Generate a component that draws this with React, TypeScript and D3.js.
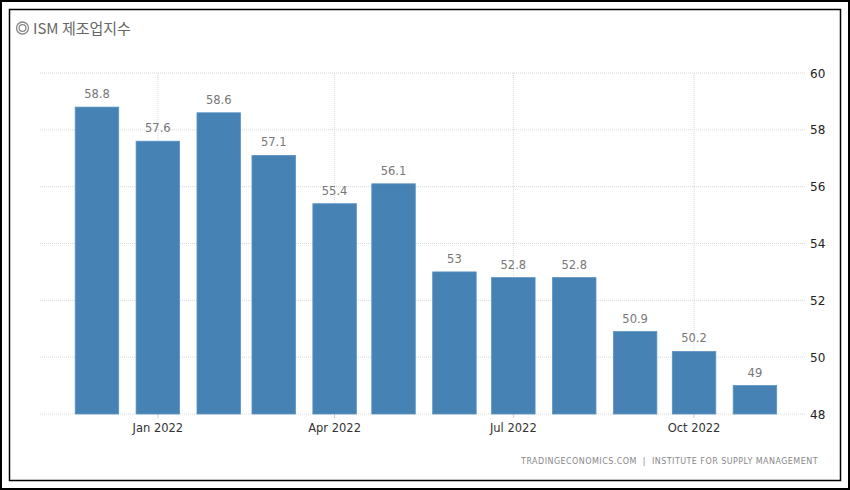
import React from "react";
import * as d3 from "d3";

const months: string[] = [
  "2021-12-01", "2022-01-01", "2022-02-01", "2022-03-01", "2022-04-01", "2022-05-01",
  "2022-06-01", "2022-07-01", "2022-08-01", "2022-09-01", "2022-10-01", "2022-11-01",
];
const values: number[] = [58.8, 57.6, 58.6, 57.1, 55.4, 56.1, 53, 52.8, 52.8, 50.9, 50.2, 49];
const yTicks: number[] = [48, 50, 52, 54, 56, 58, 60];
const xTickDates: string[] = ["2022-01-01", "2022-04-01", "2022-07-01", "2022-10-01"];
const title = "ISM 제조업지수";
const source = "TRADINGECONOMICS.COM  |  INSTITUTE FOR SUPPLY MANAGEMENT";

const W = 850;
const H = 490;

export default function App() {
  const parse = d3.utcParse("%Y-%m-%d");
  const x = d3
    .scaleUtc()
    .domain([parse("2021-11-02")!, parse("2022-11-27")!])
    .range([40, 806]);
  const y = d3.scaleLinear().domain([48, 60]).range([414, 73]);
  const fmt = d3.utcFormat("%b %Y");
  const barW = 43.5;
  const font = "'DejaVu Sans', Verdana, sans-serif";

  return (
    <svg
      width={W}
      height={H}
      style={{ position: "absolute", left: 0, top: 0, background: "#fff" }}
    >
      <rect x={1} y={1} width={W - 2} height={H - 2} fill="#fff" stroke="#000" strokeWidth={2} />
      <rect x={9.5} y={9.5} width={831} height={471} fill="#fff" stroke="#000" strokeWidth={1.5} />

      {/* title */}
      <g>
        <circle cx={22.5} cy={28} r={6} fill="none" stroke="#888" strokeWidth={1.3} />
        <circle cx={22.5} cy={28} r={3.4} fill="none" stroke="#888" strokeWidth={1.3} />
        <text
          x={33}
          y={33.5}
          fontFamily="'Noto Sans CJK KR', 'Noto Sans', sans-serif"
          fontSize={15}
          fill="#666"
        >
          {title}
        </text>
      </g>

      {/* horizontal grid */}
      {yTicks.map((t) => (
        <g key={"y" + t}>
          <line
            x1={40}
            x2={806}
            y1={y(t)}
            y2={y(t)}
            stroke="#d8d8d8"
            strokeWidth={1}
            strokeDasharray="1,1"
          />
          <text x={810} y={y(t) + 4.5} fontFamily={font} fontSize={12} fill="#222">
            {t}
          </text>
        </g>
      ))}

      {/* vertical grid + ticks */}
      {xTickDates.map((d) => {
        const xd = x(parse(d)!);
        return (
          <g key={"x" + d}>
            <line x1={xd} x2={xd} y1={73} y2={414} stroke="#d8d8d8" strokeDasharray="1,1" />
            <line x1={xd} x2={xd} y1={414} y2={418} stroke="#ccc" />
            <text
              x={xd}
              y={432}
              textAnchor="middle"
              fontFamily={font}
              fontSize={11.5}
              fill="#333"
            >
              {fmt(parse(d)!)}
            </text>
          </g>
        );
      })}

      {/* bars */}
      {months.map((m, i) => {
        const cx = x(parse(m)!);
        const top = y(values[i]);
        return (
          <g key={m}>
            <rect
              x={cx - barW / 2}
              y={top}
              width={barW}
              height={y(48) - top}
              fill="#4682b4"
              stroke="#5b93c2"
              strokeWidth={0.8}
            />
            <text
              x={cx}
              y={top - 9}
              textAnchor="middle"
              fontFamily={font}
              fontSize={11.5}
              fill="#777"
            >
              {values[i]}
            </text>
          </g>
        );
      })}

      <text
        x={818}
        y={464}
        textAnchor="end"
        fontFamily={font}
        fontSize={8}
        letterSpacing={0.45}
        fill="#888"
        style={{ whiteSpace: "pre" }}
      >
        {source}
      </text>
    </svg>
  );
}
